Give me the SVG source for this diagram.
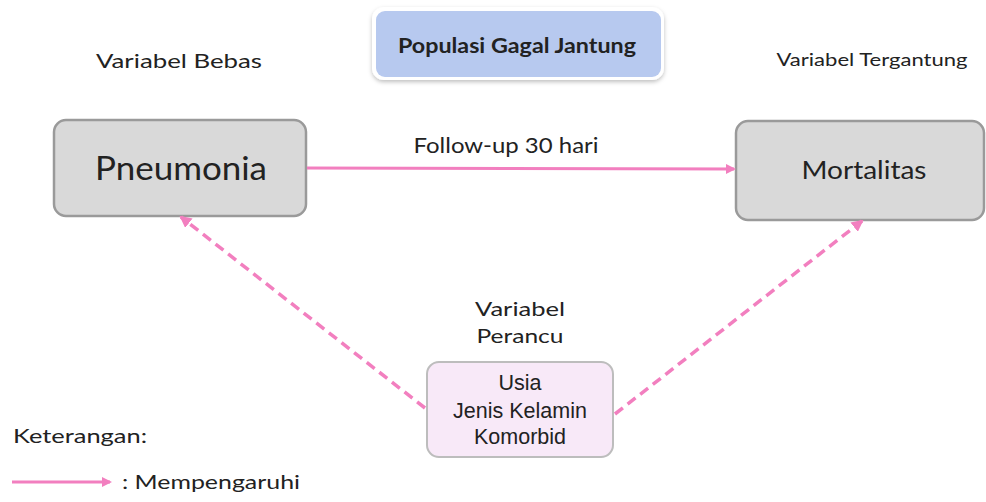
<svg xmlns="http://www.w3.org/2000/svg" width="986" height="502" viewBox="0 0 986 502">
<style>
.t{font-family:Lato,"Open Sans",sans-serif;fill:#222}
.a{font-family:"Liberation Sans",Arial,sans-serif;fill:#222}
.main{fill:#d9d9d9;stroke:#9a9a9a;stroke-width:2.5}
.conn{stroke:#f27fbf;stroke-width:3;fill:none}
.dash{stroke-dasharray:10 6;stroke-width:3.5}
</style>
<defs>
<marker id="ah" markerWidth="10" markerHeight="10" refX="8" refY="5" orient="auto" markerUnits="userSpaceOnUse"><path d="M0,0 L10,5 L0,10 Z" fill="#f27fbf"/></marker>
<marker id="ah3" markerWidth="12" markerHeight="12" refX="10" refY="6" orient="auto" markerUnits="userSpaceOnUse"><path d="M0,0 L12,6 L0,12 Z" fill="#f27fbf"/></marker>
<filter id="sh" x="-10%" y="-20%" width="120%" height="150%"><feDropShadow dx="0" dy="2" stdDeviation="2" flood-color="#000" flood-opacity="0.25"/></filter>
</defs>
<rect width="986" height="502" fill="#fff"/>
<g id="populasi">
<rect x="372" y="7" width="292" height="73" rx="12" fill="#fff" filter="url(#sh)"/>
<rect x="376" y="11" width="285" height="66" rx="9" fill="#b7c9ef"/>
<text x="517" y="53" text-anchor="middle" class="t" font-size="20" font-weight="bold" textLength="238" lengthAdjust="spacingAndGlyphs">Populasi Gagal Jantung</text>
</g>
<g id="label-bebas"><text x="179" y="68" text-anchor="middle" class="t" font-size="20" textLength="166" lengthAdjust="spacingAndGlyphs">Variabel Bebas</text></g>
<g id="label-tergantung"><text x="872" y="66" text-anchor="middle" class="t" font-size="17" textLength="191" lengthAdjust="spacingAndGlyphs">Variabel Tergantung</text></g>
<g id="pneumonia">
<rect x="54" y="120" width="252" height="96" rx="12" class="main"/>
<text x="181" y="180" text-anchor="middle" class="t" font-size="33" textLength="172" lengthAdjust="spacingAndGlyphs">Pneumonia</text>
</g>
<g id="mortalitas">
<rect x="736" y="121" width="248" height="99" rx="12" class="main"/>
<text x="864" y="179" text-anchor="middle" class="t" font-size="25" textLength="125" lengthAdjust="spacingAndGlyphs">Mortalitas</text>
</g>
<g id="label-perancu">
<text x="520" y="316" text-anchor="middle" class="t" font-size="20" textLength="90" lengthAdjust="spacingAndGlyphs">Variabel</text>
<text x="520" y="343" text-anchor="middle" class="t" font-size="20" textLength="87" lengthAdjust="spacingAndGlyphs">Perancu</text>
</g>
<g id="perancu">
<rect x="427" y="362" width="186" height="95" rx="12" fill="#f8e9f8" stroke="#bdbdbd" stroke-width="2"/>
<text x="520" y="390" text-anchor="middle" class="a" font-size="21.5">Usia</text>
<text x="520" y="418" text-anchor="middle" class="a" font-size="21.5">Jenis Kelamin</text>
<text x="520" y="444" text-anchor="middle" class="a" font-size="21.5">Komorbid</text>
</g>
<g id="connectors">
<line x1="307" y1="168" x2="734" y2="169" class="conn" marker-end="url(#ah)"/>
<line x1="425" y1="408" x2="181" y2="217" class="conn dash" marker-end="url(#ah3)"/>
<line x1="615" y1="414" x2="862" y2="221" class="conn dash" marker-end="url(#ah3)"/>
</g>
<g id="follow-label"><text x="506" y="153" text-anchor="middle" class="t" font-size="22" textLength="185" lengthAdjust="spacingAndGlyphs">Follow-up 30 hari</text></g>
<g id="legend">
<text x="13" y="443" class="t" font-size="20" textLength="134" lengthAdjust="spacingAndGlyphs">Keterangan:</text>
<line x1="12" y1="482" x2="110" y2="482" class="conn" marker-end="url(#ah)"/>
<text x="122" y="489" class="t" font-size="20" textLength="178" lengthAdjust="spacingAndGlyphs">: Mempengaruhi</text>
</g>
</svg>
